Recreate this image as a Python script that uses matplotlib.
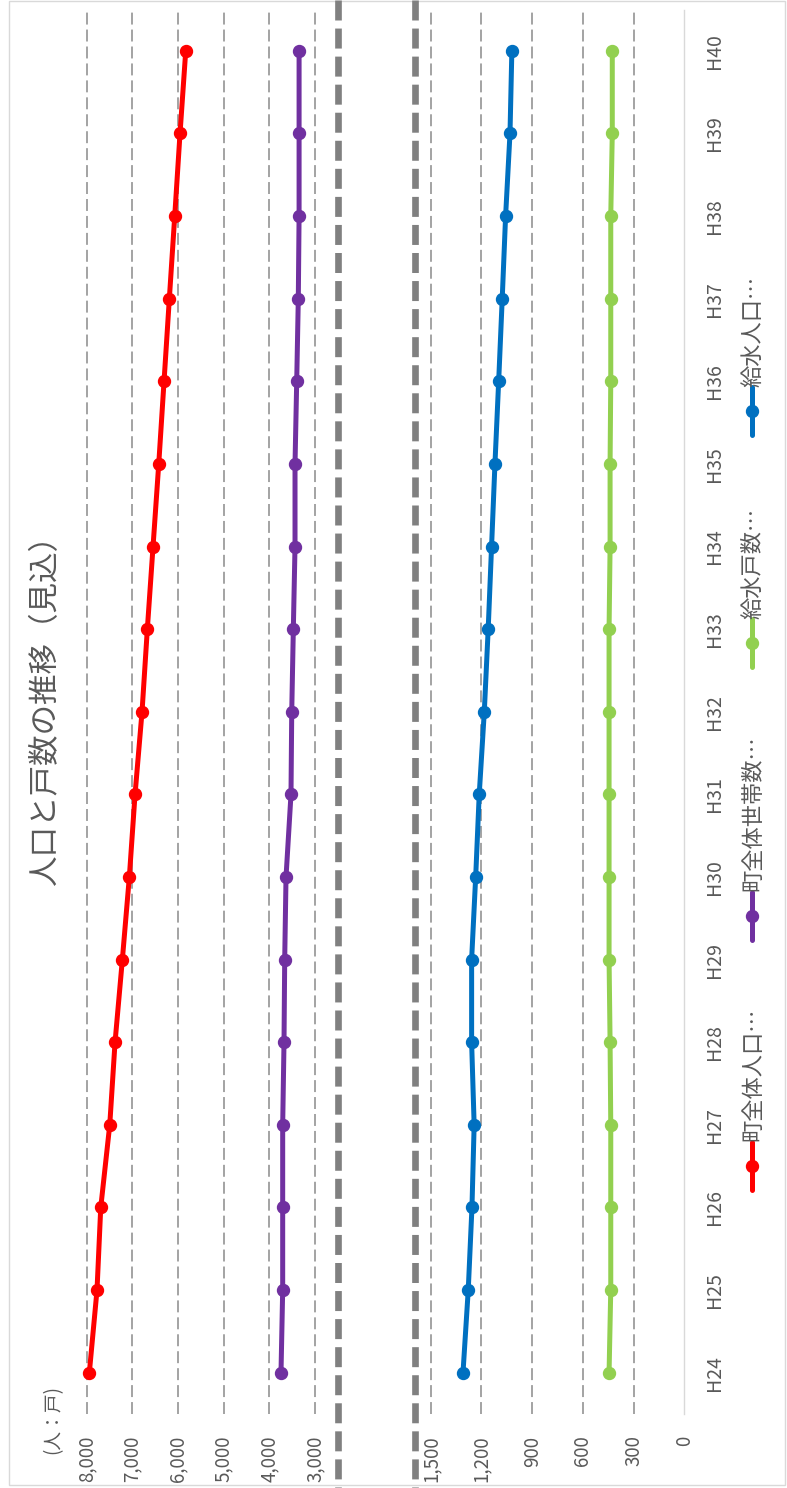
import numpy as np
import matplotlib
matplotlib.use('Agg')
import matplotlib.pyplot as plt
from matplotlib.patches import Rectangle

plt.rcParams['font.family'] = ['Noto Sans CJK JP', 'DejaVu Sans']
plt.rcParams['lines.scale_dashes'] = False

# 年度（平成）
years = ['H24', 'H25', 'H26', 'H27', 'H28', 'H29', 'H30', 'H31', 'H32',
         'H33', 'H34', 'H35', 'H36', 'H37', 'H38', 'H39', 'H40']

# 上段（人・戸）
town_pop = [7943, 7775, 7693, 7496, 7380, 7220, 7067, 6942, 6789,
            6673, 6548, 6423, 6307, 6191, 6073, 5957, 5832]
town_households = [3746, 3709, 3709, 3709, 3680, 3665, 3636, 3527, 3511,
                   3476, 3439, 3439, 3402, 3367, 3350, 3350, 3350]

# 下段（人・戸）
supply_pop = [1309, 1278, 1256, 1243, 1258, 1258, 1234, 1213, 1183,
              1160, 1140, 1120, 1098, 1077, 1057, 1031, 1020]
supply_households = [445, 435, 435, 435, 439, 445, 445, 445, 445,
                     445, 439, 439, 435, 435, 435, 426, 426]

upper_ticks = [3000, 4000, 5000, 6000, 7000, 8000]
lower_ticks = [0, 300, 600, 900, 1200, 1500]

legend_names = ['町全体人口…', '町全体世帯数…', '給水戸数…', '給水人口…']
colors = ['#FF0000', '#7030A0', '#92D050', '#0070C0']
text_gray = '#595959'
grid_gray = '#8a8a8a'

W, H = 787, 1488
fig = plt.figure(figsize=(W / 100, H / 100), dpi=100)


def box(left, right, top=9.5, bottom=1414):
    return [left / W, 1 - bottom / H, (right - left) / W, (bottom - top) / H]


ypos = np.arange(len(years))

ax_up = fig.add_axes(box(77.6, 337.9))
ax_lo = fig.add_axes(box(413.8, 684.3))

for ax in (ax_up, ax_lo):
    ax.set_ylim(-0.5, len(years) - 0.5)
    for s in ax.spines.values():
        s.set_visible(False)
    ax.tick_params(length=0, labelcolor=text_gray, labelsize=13.5)
    ax.patch.set_alpha(0)

# 上段
ax_up.set_xlim(8200, 2500)
for v in upper_ticks:
    ax_up.axvline(v, color=grid_gray, lw=1.1, dashes=(8.6, 3.6), zorder=1)
ax_up.set_xticks(upper_ticks, ['{:,}'.format(v) for v in upper_ticks],
                 rotation=90)
ax_up.tick_params(axis='x', pad=15.5)
ax_up.set_yticks([])
ax_up.plot(town_pop, ypos, color=colors[0], lw=3.6, marker='o', ms=8.6,
           zorder=3)
ax_up.plot(town_households, ypos, color=colors[1], lw=3.6, marker='o',
           ms=8.6, zorder=3)

# 下段
ax_lo.set_xlim(1600, 0)
for v in lower_ticks[1:]:
    ax_lo.axvline(v, color=grid_gray, lw=1.1, dashes=(8.6, 3.6), zorder=1)
ax_lo.spines['right'].set_visible(True)
ax_lo.spines['right'].set_color('#d9d9d9')
ax_lo.spines['right'].set_linewidth(1.0)
ax_lo.set_xticks(lower_ticks, ['{:,}'.format(v) for v in lower_ticks],
                 rotation=90)
ax_lo.tick_params(axis='x', pad=15.5)
ax_lo.yaxis.tick_right()
ax_lo.set_yticks(ypos, years, rotation=90, va='center')
ax_lo.tick_params(axis='y', pad=14, labelsize=14)
ax_lo.plot(supply_households, ypos, color=colors[2], lw=3.6, marker='o',
           ms=8.6, zorder=3)
ax_lo.plot(supply_pop, ypos, color=colors[3], lw=3.6, marker='o', ms=8.6,
           zorder=3)

# 枠・区切り線・タイトル・凡例
ov = fig.add_axes([0, 0, 1, 1])
ov.set_xlim(0, W)
ov.set_ylim(H, 0)
ov.axis('off')
ov.add_patch(Rectangle((8.5, 0.5), 776.5, 1484.5, fill=False,
                       edgecolor='#d9d9d9', lw=1.0))
for x in (337.7, 415):
    ov.plot([x, x], [0, H], color='#808080', lw=4.8, dashes=(14.4, 5.8),
            solid_capstyle='butt', dash_capstyle='butt')

ov.text(46, 702, '人口と戸数の推移（見込）', rotation=90, ha='center',
        va='center', fontsize=22, color=text_gray)
ov.text(53, 1420, '(人：戸)', rotation=90, ha='center', va='center',
        fontsize=13.5, color=text_gray)

legend_marker_y = [1166, 916, 643, 411]
legend_text_y = [1141, 891, 619, 387]
for name, c, my, ty in zip(legend_names, colors, legend_marker_y,
                           legend_text_y):
    ov.plot([752, 752], [my - 24, my + 24], color=c, lw=3.6,
            solid_capstyle='round')
    ov.plot([752], [my], color=c, marker='o', ms=8.6)
    ov.text(753, ty, name, rotation=90, ha='center', va='bottom',
            fontsize=16, color=text_gray)

fig.savefig('out.png', dpi=100)
